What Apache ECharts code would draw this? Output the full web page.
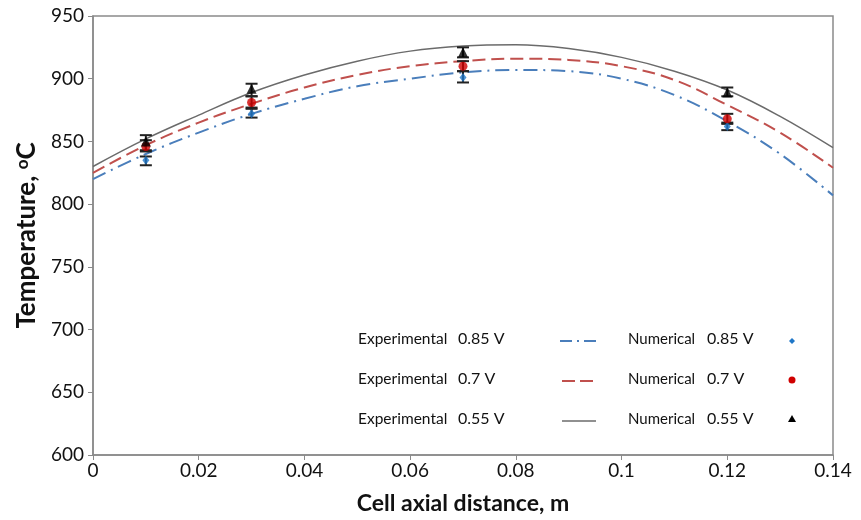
<!DOCTYPE html>
<html><head><meta charset="utf-8">
<script src="https://cdn.jsdelivr.net/npm/echarts@6/dist/echarts.min.js"></script>
<style>html,body{margin:0;padding:0;background:#fff}#c{width:861px;height:520px}</style>
</head><body><div id="c"></div>
<script>
const xCurve = [0,0.01,0.02,0.03,0.04,0.05,0.06,0.07,0.08,0.09,0.10,0.11,0.12,0.13,0.14];
const num055 = [830,852,871,889,903,914,922,926,927,924,917,906,891,870,845];
const num070 = [825,847,865,880,893,903,910,914,916,915,910,899,879,857,829];
const num085 = [820,840,857,872,884,894,900,905,907,906,900,887,866,840,807];
const expX = [0.01,0.03,0.07,0.12];
const exp055 = [850,892,921,889];
const exp070 = [846,881,910,868];
const exp085 = [835,872,901,862];
const err055 = [[843,855],[886,896],[917,925],[886,893]];
const err070 = [[842,851],[877,886],[906,914],[864,872]];
const err085 = [[831,838],[869,876],[897,906],[859,865]];
const xTicks = [0,0.02,0.04,0.06,0.08,0.1,0.12,0.14];

const FONT = 'Lato';
const chart = echarts.init(document.getElementById('c'));
function pairs(xs, ys){ return xs.map((x,i)=>[x,ys[i]]); }
function errSeries(errs){
  return {
    type:'custom', z:5,
    data: expX.map((x,i)=>[x, errs[i][0], errs[i][1]]),
    renderItem: function(params, api){
      const x = api.value(0);
      const lo = api.coord([x, api.value(1)]);
      const hi = api.coord([x, api.value(2)]);
      const w = 6;
      const st = {stroke:'#222', lineWidth:2};
      return {type:'group', children:[
        {type:'line', shape:{x1:lo[0],y1:lo[1],x2:hi[0],y2:hi[1]}, style:st},
        {type:'line', shape:{x1:lo[0]-w,y1:lo[1],x2:lo[0]+w,y2:lo[1]}, style:st},
        {type:'line', shape:{x1:hi[0]-w,y1:hi[1],x2:hi[0]+w,y2:hi[1]}, style:st}
      ]};
    }
  };
}
const blue = '#4a7ebb', red = '#c0504d', gray = '#6b6b6b';
function legText(t, x, y, size){ return {type:'text', left:x, top:y-size*0.62, style:{text:t, font: size+'px '+FONT, fill:'#111'}}; }
const rows = [341, 381, 421];
const graphics = [];
const vals = ['0.85 V','0.7 V','0.55 V'];
rows.forEach((y,i)=>{
  graphics.push(legText('Experimental', 358, y, 15.5));
  graphics.push(legText(vals[i], 458, y, 16));
  graphics.push(legText('Numerical', 628, y, 15));
  graphics.push(legText(vals[i], 707, y, 16));
});
graphics.push({type:'line', shape:{x1:560,y1:341,x2:596,y2:341}, style:{stroke:blue, lineWidth:2, lineDash:[12,5,2,5]}});
graphics.push({type:'line', shape:{x1:562,y1:381,x2:597,y2:381}, style:{stroke:red, lineWidth:2, lineDash:[13,5]}});
graphics.push({type:'line', shape:{x1:562,y1:421,x2:596,y2:421}, style:{stroke:gray, lineWidth:1.5}});
graphics.push({type:'polygon', shape:{points:[[792,338],[795,341],[792,344],[789,341]]}, style:{fill:'#1f77c8'}});
graphics.push({type:'circle', shape:{cx:792,cy:380,r:3.5}, style:{fill:'#d00000'}});
graphics.push({type:'polygon', shape:{points:[[792,415],[796,422],[788,422]]}, style:{fill:'#000'}});

chart.setOption({
  animation:false,
  textStyle:{fontFamily:FONT},
  grid:{left:93, right:28, top:16, bottom:65, show:true, borderColor:'#8a8a8a', borderWidth:1.5, outerBoundsMode:'none', containLabel:false},
  xAxis:{type:'value', min:0, max:0.14, interval:0.02,
    axisLine:{show:true, lineStyle:{color:'#8a8a8a', width:1.5}},
    axisTick:{show:true, length:5, lineStyle:{color:'#8a8a8a'}},
    splitLine:{show:false},
    axisLabel:{color:'#111', fontSize:19, margin:6, fontFamily:FONT,
      formatter: v => { const t = xTicks.find(k=>Math.abs(k-v)<1e-9); return t===undefined ? '' : String(t); }},
    name:'Cell axial distance, m', nameLocation:'middle', nameGap:37,
    nameTextStyle:{color:'#111', fontSize:23, fontWeight:'bold', fontFamily:FONT}
  },
  yAxis:{type:'value', min:600, max:950, interval:50,
    axisLine:{show:true, lineStyle:{color:'#8a8a8a', width:1.5}},
    axisTick:{show:true, length:5, lineStyle:{color:'#8a8a8a'}},
    splitLine:{show:false},
    axisLabel:{color:'#111', fontSize:19, margin:9, fontFamily:FONT},
    name:'Temperature, {sup|o}C', nameLocation:'middle', nameGap:52,
    nameTextStyle:{color:'#111', fontSize:26, fontWeight:'bold', fontFamily:FONT,
      rich:{sup:{fontSize:17, fontWeight:'bold', verticalAlign:'top', color:'#111', fontFamily:FONT, padding:[0,0,9,0]}}}
  },
  graphic: graphics,
  series:[
    {type:'line', smooth:0.4, symbol:'none', data:pairs(xCurve,num055), lineStyle:{color:gray, width:1.5}, z:2},
    {type:'line', smooth:0.4, symbol:'none', data:pairs(xCurve,num070), lineStyle:{color:red, width:2, type:[13,6]}, z:2},
    {type:'line', smooth:0.4, symbol:'none', data:pairs(xCurve,num085), lineStyle:{color:blue, width:2, type:[14,6,2,6]}, z:2},
    errSeries(err055), errSeries(err070), errSeries(err085),
    {type:'scatter', data:pairs(expX,exp085), symbol:'diamond', symbolSize:[7,9], itemStyle:{color:'#1f77c8'}, z:6},
    {type:'scatter', data:pairs(expX,exp070), symbol:'circle', symbolSize:9, itemStyle:{color:'#d00000'}, z:6},
    {type:'scatter', data:pairs(expX,exp055), symbol:'triangle', symbolSize:[10,10], itemStyle:{color:'#000'}, z:6}
  ]
});
</script></body></html>
